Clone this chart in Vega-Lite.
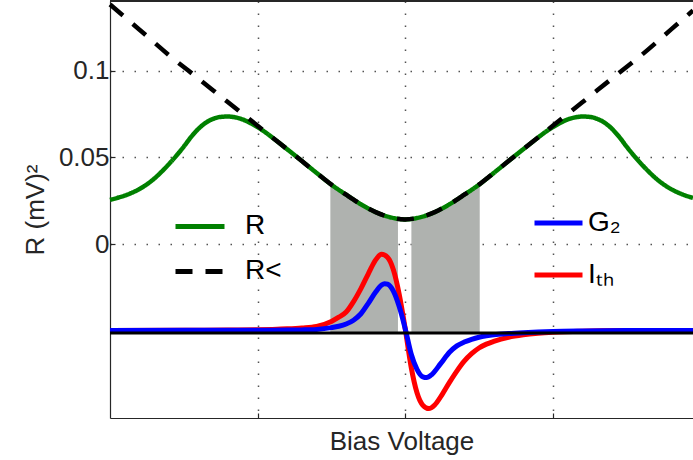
{
  "$schema": "https://vega.github.io/schema/vega-lite/v6.json",
  "width": 583,
  "height": 417,
  "autosize": {"type": "none"},
  "padding": {"left": 110, "top": 1, "right": 0, "bottom": 42},
  "config": {
    "view": {"stroke": null},
    "axis": {
      "labelFont": "Liberation Sans",
      "labelFontSize": 26,
      "labelColor": "#262626",
      "titleFont": "Liberation Sans",
      "titleFontSize": 26,
      "titleFontWeight": "normal",
      "titleColor": "#262626",
      "domainColor": "#262626",
      "domainWidth": 1.2,
      "tickColor": "#262626",
      "tickWidth": 1.2,
      "gridColor": "#404040",
      "gridWidth": 1.5,
      "gridDash": [1.5, 10.5],
      "gridOpacity": 0.9
    }
  },
  "datasets": {
    "bands": [
      {"band": "a", "x": -0.507, "y": 0.0347},
      {"band": "a", "x": -0.5, "y": 0.0343},
      {"band": "a", "x": -0.4, "y": 0.0285},
      {"band": "a", "x": -0.3, "y": 0.023},
      {"band": "a", "x": -0.2, "y": 0.0185},
      {"band": "a", "x": -0.1, "y": 0.0155},
      {"band": "a", "x": -0.049, "y": 0.0146},
      {"band": "b", "x": 0.042, "y": 0.0145},
      {"band": "b", "x": 0.1, "y": 0.0155},
      {"band": "b", "x": 0.2, "y": 0.0185},
      {"band": "b", "x": 0.3, "y": 0.023},
      {"band": "b", "x": 0.4, "y": 0.0285},
      {"band": "b", "x": 0.5, "y": 0.0343},
      {"band": "b", "x": 0.505, "y": 0.0346}
    ],
    "rc": [
      {"series": "R", "x": -2, "y": 0.0255},
      {"series": "R", "x": -1.95, "y": 0.0267},
      {"series": "R", "x": -1.9, "y": 0.028},
      {"series": "R", "x": -1.85, "y": 0.0297},
      {"series": "R", "x": -1.8, "y": 0.0318},
      {"series": "R", "x": -1.75, "y": 0.0345},
      {"series": "R", "x": -1.7, "y": 0.0378},
      {"series": "R", "x": -1.65, "y": 0.0418},
      {"series": "R", "x": -1.6, "y": 0.0462},
      {"series": "R", "x": -1.55, "y": 0.051},
      {"series": "R", "x": -1.5, "y": 0.0562},
      {"series": "R", "x": -1.45, "y": 0.0618},
      {"series": "R", "x": -1.4, "y": 0.0665},
      {"series": "R", "x": -1.35, "y": 0.07},
      {"series": "R", "x": -1.3, "y": 0.0722},
      {"series": "R", "x": -1.25, "y": 0.0733},
      {"series": "R", "x": -1.2, "y": 0.0735},
      {"series": "R", "x": -1.15, "y": 0.073},
      {"series": "R", "x": -1.1, "y": 0.0718},
      {"series": "R", "x": -1.05, "y": 0.0698},
      {"series": "R", "x": -1.0, "y": 0.0674},
      {"series": "R", "x": -0.95, "y": 0.0646},
      {"series": "R", "x": -0.9, "y": 0.0614},
      {"series": "R", "x": -0.8, "y": 0.0547},
      {"series": "R", "x": -0.7, "y": 0.0479},
      {"series": "R", "x": -0.6, "y": 0.041},
      {"series": "R", "x": -0.5, "y": 0.0343},
      {"series": "R", "x": -0.4, "y": 0.0285},
      {"series": "R", "x": -0.3, "y": 0.023},
      {"series": "R", "x": -0.2, "y": 0.0185},
      {"series": "R", "x": -0.1, "y": 0.0155},
      {"series": "R", "x": 0, "y": 0.0143},
      {"series": "R", "x": 0.1, "y": 0.0155},
      {"series": "R", "x": 0.2, "y": 0.0185},
      {"series": "R", "x": 0.3, "y": 0.023},
      {"series": "R", "x": 0.4, "y": 0.0285},
      {"series": "R", "x": 0.5, "y": 0.0343},
      {"series": "R", "x": 0.6, "y": 0.041},
      {"series": "R", "x": 0.7, "y": 0.0479},
      {"series": "R", "x": 0.8, "y": 0.0547},
      {"series": "R", "x": 0.9, "y": 0.0614},
      {"series": "R", "x": 0.95, "y": 0.0646},
      {"series": "R", "x": 1.0, "y": 0.0674},
      {"series": "R", "x": 1.05, "y": 0.0698},
      {"series": "R", "x": 1.1, "y": 0.0718},
      {"series": "R", "x": 1.15, "y": 0.073},
      {"series": "R", "x": 1.2, "y": 0.0735},
      {"series": "R", "x": 1.25, "y": 0.0733},
      {"series": "R", "x": 1.3, "y": 0.0722},
      {"series": "R", "x": 1.35, "y": 0.07},
      {"series": "R", "x": 1.4, "y": 0.0665},
      {"series": "R", "x": 1.45, "y": 0.0618},
      {"series": "R", "x": 1.5, "y": 0.0562},
      {"series": "R", "x": 1.55, "y": 0.051},
      {"series": "R", "x": 1.6, "y": 0.0462},
      {"series": "R", "x": 1.65, "y": 0.0418},
      {"series": "R", "x": 1.7, "y": 0.0378},
      {"series": "R", "x": 1.75, "y": 0.0345},
      {"series": "R", "x": 1.8, "y": 0.0318},
      {"series": "R", "x": 1.85, "y": 0.0297},
      {"series": "R", "x": 1.9, "y": 0.028},
      {"series": "R", "x": 1.95, "y": 0.0267},
      {"series": "R<", "x": -2, "y": 0.138},
      {"series": "R<", "x": -1.8, "y": 0.1235},
      {"series": "R<", "x": -1.6, "y": 0.1088},
      {"series": "R<", "x": -1.4, "y": 0.0953},
      {"series": "R<", "x": -1.2, "y": 0.0817},
      {"series": "R<", "x": -1.0, "y": 0.0682},
      {"series": "R<", "x": -0.9, "y": 0.0614},
      {"series": "R<", "x": -0.8, "y": 0.0547},
      {"series": "R<", "x": -0.7, "y": 0.0479},
      {"series": "R<", "x": -0.6, "y": 0.041},
      {"series": "R<", "x": -0.5, "y": 0.0343},
      {"series": "R<", "x": -0.4, "y": 0.0285},
      {"series": "R<", "x": -0.3, "y": 0.023},
      {"series": "R<", "x": -0.2, "y": 0.0185},
      {"series": "R<", "x": -0.1, "y": 0.0155},
      {"series": "R<", "x": 0, "y": 0.0143},
      {"series": "R<", "x": 0.1, "y": 0.0155},
      {"series": "R<", "x": 0.2, "y": 0.0185},
      {"series": "R<", "x": 0.3, "y": 0.023},
      {"series": "R<", "x": 0.4, "y": 0.0285},
      {"series": "R<", "x": 0.5, "y": 0.0343},
      {"series": "R<", "x": 0.6, "y": 0.041},
      {"series": "R<", "x": 0.7, "y": 0.0479},
      {"series": "R<", "x": 0.8, "y": 0.0547},
      {"series": "R<", "x": 0.9, "y": 0.0614},
      {"series": "R<", "x": 1.0, "y": 0.0682},
      {"series": "R<", "x": 1.2, "y": 0.0817},
      {"series": "R<", "x": 1.4, "y": 0.0953},
      {"series": "R<", "x": 1.6, "y": 0.1088},
      {"series": "R<", "x": 1.8, "y": 0.1235},
      {"series": "R<", "x": 1.95, "y": 0.1345}
    ],
    "gi": [
      {"series": "Ith", "x": -2, "y": -0.0496},
      {"series": "Ith", "x": -1.5, "y": -0.0495},
      {"series": "Ith", "x": -1.2, "y": -0.0494},
      {"series": "Ith", "x": -1.0, "y": -0.0492},
      {"series": "Ith", "x": -0.9, "y": -0.049},
      {"series": "Ith", "x": -0.8, "y": -0.0487},
      {"series": "Ith", "x": -0.7, "y": -0.0482},
      {"series": "Ith", "x": -0.6, "y": -0.0473},
      {"series": "Ith", "x": -0.5, "y": -0.0444},
      {"series": "Ith", "x": -0.45, "y": -0.042},
      {"series": "Ith", "x": -0.4, "y": -0.039},
      {"series": "Ith", "x": -0.35, "y": -0.033},
      {"series": "Ith", "x": -0.3, "y": -0.0255},
      {"series": "Ith", "x": -0.25, "y": -0.017},
      {"series": "Ith", "x": -0.2, "y": -0.009},
      {"series": "Ith", "x": -0.16, "y": -0.0058},
      {"series": "Ith", "x": -0.12, "y": -0.0075},
      {"series": "Ith", "x": -0.08, "y": -0.0147},
      {"series": "Ith", "x": -0.04, "y": -0.029},
      {"series": "Ith", "x": 0, "y": -0.0485},
      {"series": "Ith", "x": 0.04, "y": -0.0705},
      {"series": "Ith", "x": 0.08, "y": -0.0855},
      {"series": "Ith", "x": 0.12, "y": -0.0927},
      {"series": "Ith", "x": 0.16, "y": -0.0946},
      {"series": "Ith", "x": 0.2, "y": -0.0925},
      {"series": "Ith", "x": 0.25, "y": -0.0865},
      {"series": "Ith", "x": 0.3, "y": -0.0795},
      {"series": "Ith", "x": 0.35, "y": -0.073},
      {"series": "Ith", "x": 0.4, "y": -0.0673},
      {"series": "Ith", "x": 0.45, "y": -0.063},
      {"series": "Ith", "x": 0.5, "y": -0.0597},
      {"series": "Ith", "x": 0.55, "y": -0.0575},
      {"series": "Ith", "x": 0.6, "y": -0.0559},
      {"series": "Ith", "x": 0.7, "y": -0.0535},
      {"series": "Ith", "x": 0.8, "y": -0.0521},
      {"series": "Ith", "x": 0.9, "y": -0.0512},
      {"series": "Ith", "x": 1.0, "y": -0.0506},
      {"series": "Ith", "x": 1.2, "y": -0.05},
      {"series": "Ith", "x": 1.5, "y": -0.0497},
      {"series": "Ith", "x": 1.95, "y": -0.0496},
      {"series": "G2", "x": -2, "y": -0.0496},
      {"series": "G2", "x": -1.0, "y": -0.0495},
      {"series": "G2", "x": -0.8, "y": -0.0494},
      {"series": "G2", "x": -0.7, "y": -0.0493},
      {"series": "G2", "x": -0.6, "y": -0.049},
      {"series": "G2", "x": -0.5, "y": -0.048},
      {"series": "G2", "x": -0.45, "y": -0.0472},
      {"series": "G2", "x": -0.4, "y": -0.0459},
      {"series": "G2", "x": -0.35, "y": -0.0437},
      {"series": "G2", "x": -0.3, "y": -0.04},
      {"series": "G2", "x": -0.25, "y": -0.034},
      {"series": "G2", "x": -0.2, "y": -0.0275},
      {"series": "G2", "x": -0.16, "y": -0.0235},
      {"series": "G2", "x": -0.14, "y": -0.0227},
      {"series": "G2", "x": -0.12, "y": -0.023},
      {"series": "G2", "x": -0.08, "y": -0.027},
      {"series": "G2", "x": -0.04, "y": -0.036},
      {"series": "G2", "x": 0, "y": -0.0485},
      {"series": "G2", "x": 0.04, "y": -0.063},
      {"series": "G2", "x": 0.08, "y": -0.072},
      {"series": "G2", "x": 0.12, "y": -0.0763},
      {"series": "G2", "x": 0.145, "y": -0.0767},
      {"series": "G2", "x": 0.18, "y": -0.075},
      {"series": "G2", "x": 0.24, "y": -0.0687},
      {"series": "G2", "x": 0.3, "y": -0.0622},
      {"series": "G2", "x": 0.35, "y": -0.0585},
      {"series": "G2", "x": 0.4, "y": -0.0563},
      {"series": "G2", "x": 0.45, "y": -0.0547},
      {"series": "G2", "x": 0.5, "y": -0.0535},
      {"series": "G2", "x": 0.55, "y": -0.0527},
      {"series": "G2", "x": 0.6, "y": -0.0521},
      {"series": "G2", "x": 0.7, "y": -0.0514},
      {"series": "G2", "x": 0.8, "y": -0.0509},
      {"series": "G2", "x": 0.9, "y": -0.0505},
      {"series": "G2", "x": 1.0, "y": -0.0502},
      {"series": "G2", "x": 1.2, "y": -0.0499},
      {"series": "G2", "x": 1.5, "y": -0.0497},
      {"series": "G2", "x": 1.95, "y": -0.0496}
    ]
  },
  "resolve": {
    "scale": {"color": "independent", "strokeDash": "independent"},
    "legend": {"color": "independent", "strokeDash": "independent"}
  },
  "layer": [
    {
      "data": {"name": "bands"},
      "mark": {"type": "area", "color": "#afb2af", "opacity": 1, "interpolate": "monotone"},
      "encoding": {
        "x": {"field": "x", "type": "quantitative", "scale": {"domain": [-2, 1.95], "nice": false, "zero": false},
              "axis": {"orient": "bottom", "values": [-1, 0, 1], "labels": false, "title": "Bias Voltage", "grid": true, "ticks": true, "tickSize": -5, "titlePadding": 10}},
        "y": {"field": "y", "type": "quantitative", "scale": {"domain": [-0.1, 0.14], "nice": false, "zero": false},
              "axis": {"values": [0, 0.05, 0.1], "format": ".2~f", "title": "R (mV)²", "grid": true, "ticks": true, "tickSize": -5, "labelPadding": 6, "titlePadding": 10}},
        "y2": {"datum": -0.0505},
        "detail": {"field": "band"}
      }
    },
    {
      "data": {"name": "rc"},
      "mark": {"type": "line", "strokeWidth": 4.5, "interpolate": "monotone", "strokeCap": "butt"},
      "encoding": {
        "x": {"field": "x", "type": "quantitative"},
        "y": {"field": "y", "type": "quantitative"},
        "color": {"field": "series", "type": "nominal",
                  "scale": {"domain": ["R", "R<"], "range": ["#008000", "#000000"]},
                  "legend": {"orient": "none", "legendX": 63, "legendY": 198.4, "title": null, "direction": "vertical", "padding": 0,
                             "symbolType": "stroke", "symbolSize": 2401, "symbolStrokeWidth": 5,
                             "labelFont": "Liberation Sans", "labelFontSize": 28, "labelColor": "#000000", "labelOffset": 18, "rowPadding": 4,
                             "labelExpr": "datum.label === 'R<' ? 'R˂' : datum.label"}},
        "strokeDash": {"field": "series", "type": "nominal",
                  "scale": {"domain": ["R", "R<"], "range": [[1, 0], [17, 13]]},
                  "legend": {"orient": "none", "legendX": 63, "legendY": 198.4, "title": null, "direction": "vertical", "padding": 0,
                             "symbolType": "stroke", "symbolSize": 2401, "symbolStrokeWidth": 5,
                             "labelFont": "Liberation Sans", "labelFontSize": 28, "labelColor": "#000000", "labelOffset": 18, "rowPadding": 4,
                             "labelExpr": "datum.label === 'R<' ? 'R˂' : datum.label"}},
        "strokeWidth": {"condition": {"test": "datum.series === 'R<'", "value": 5}, "value": 4.5}
      }
    },
    {
      "data": {"name": "gi"},
      "mark": {"type": "line", "strokeWidth": 5, "interpolate": "monotone"},
      "encoding": {
        "x": {"field": "x", "type": "quantitative"},
        "y": {"field": "y", "type": "quantitative"},
        "color": {"field": "series", "type": "nominal",
                  "scale": {"domain": ["G2", "Ith"], "range": ["#0000ff", "#ff0000"]},
                  "legend": {"orient": "none", "legendX": 422, "legendY": 195.4, "title": null, "direction": "vertical", "padding": 0,
                             "symbolType": "stroke", "symbolSize": 2304, "symbolStrokeWidth": 5,
                             "labelFont": "Liberation Sans", "labelFontSize": 28, "labelColor": "#000000", "labelOffset": 3, "rowPadding": 11,
                             "labelExpr": "datum.label === 'G2' ? 'G₂' : 'Iₜₕ'"}},
        "order": {"field": "series", "sort": "descending"}
      }
    },
    {
      "data": {"values": [{}]},
      "mark": {"type": "rule", "color": "#000000", "strokeWidth": 3},
      "encoding": {"y": {"datum": -0.0511}}
    },
    {
      "data": {"values": [{}]},
      "mark": {"type": "rule", "color": "#262626", "strokeWidth": 2.2},
      "encoding": {"y": {"datum": 0.14}}
    }
  ]
}
